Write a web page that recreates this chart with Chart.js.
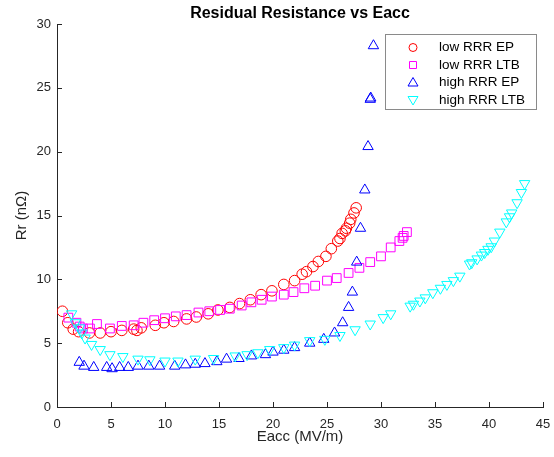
<!DOCTYPE html>
<html>
<head>
<meta charset="utf-8">
<script src="https://cdn.jsdelivr.net/npm/chart.js@4.4.1/dist/chart.umd.min.js"></script>
<style>
  html, body { margin: 0; padding: 0; background: #fff; }
  #wrap { width: 554px; height: 457px; }
</style>
</head>
<body>
<div id="wrap"><canvas id="chart" width="554" height="457"></canvas></div>
<script>
// Rr vs Eacc
const lowEpX = [0.5, 1.0, 1.5, 2.0, 3.0, 4.0, 5.0, 6.0, 7.1, 7.4, 7.8, 9.1, 9.9, 10.8, 12.0, 12.9, 14.0, 14.9,
  16.0, 16.9, 17.9, 18.9, 19.9, 21.0, 22.0, 22.7, 23.1, 23.7, 24.2, 24.9, 25.4, 26.0, 26.2, 26.4, 26.7, 26.8,
  27.1, 27.2, 27.5, 27.7];
const lowEpY = [7.5, 6.6, 6.1, 5.9, 5.8, 5.8, 5.9, 6.0, 6.1, 6.0, 6.2, 6.4, 6.6, 6.7, 6.9, 7.05, 7.3, 7.6,
  7.8, 8.1, 8.4, 8.8, 9.1, 9.6, 9.9, 10.4, 10.6, 11.0, 11.4, 11.8, 12.4, 13.0, 13.2, 13.6, 13.8, 14.0,
  14.4, 14.7, 15.2, 15.6];

const lowLtbX = [1.05, 1.8, 2.1, 2.4, 3.05, 3.7, 4.9, 6.0, 7.1, 8.0, 9.0, 10.0, 11.0, 12.0, 13.1, 14.1, 15.1,
  16.0, 17.1, 18.0, 18.95, 19.9, 21.0, 21.9, 22.9, 23.9, 25.0, 25.9, 27.0, 28.0, 29.0, 30.0, 30.9, 31.7,
  32.0, 32.1, 32.4];
const lowLtbY = [7.0, 6.6, 6.3, 6.15, 6.15, 6.5, 6.15, 6.35, 6.4, 6.6, 6.8, 6.95, 7.1, 7.2, 7.4, 7.5, 7.6,
  7.7, 7.95, 8.2, 8.4, 8.65, 8.8, 9.0, 9.3, 9.5, 9.9, 10.1, 10.5, 10.9, 11.35, 11.8, 12.5, 13.0,
  13.25, 13.4, 13.7];

const highEpX = [2.06, 2.5, 3.4, 4.6, 5.1, 5.8, 6.6, 7.5, 8.5, 9.5, 10.9, 11.9, 12.8, 13.7, 14.8, 15.7,
  16.85, 18.0, 19.3, 20.0, 21.0, 22.0, 23.4, 24.7, 25.7, 26.45, 27.0, 27.35, 27.75, 28.1, 28.5, 28.8,
  29.0, 29.05, 29.3];
const highEpY = [3.5, 3.2, 3.1, 3.1, 3.0, 3.1, 3.1, 3.2, 3.2, 3.2, 3.2, 3.3, 3.35, 3.4, 3.55, 3.75,
  3.8, 4.0, 4.1, 4.3, 4.45, 4.65, 5.0, 5.3, 5.8, 6.6, 7.8, 9.0, 11.35, 14.0, 17.0, 20.4,
  24.1, 24.2, 28.3];

const highLtbX = [1.35, 1.7, 2.1, 2.3, 2.6, 3.2, 4.0, 4.9, 6.1, 7.5, 8.6, 10.0, 11.2, 12.8, 14.5, 16.5,
  17.6, 18.6, 19.7, 21.0, 22.0, 23.4, 24.8, 26.2, 27.6, 29.0, 30.2, 30.9, 32.7, 33.0, 33.6, 34.1, 34.8,
  35.5, 36.1, 36.7, 37.3, 38.2, 38.4, 38.9, 39.3, 39.6, 39.9, 40.2, 40.5, 41.0, 41.6, 41.9, 42.1, 42.6,
  43.0, 43.3];
const highLtbY = [7.3, 6.6, 6.2, 5.8, 5.4, 4.9, 4.5, 4.1, 3.95, 3.75, 3.7, 3.6, 3.6, 3.75, 3.8, 4.0,
  4.1, 4.25, 4.5, 4.65, 4.85, 5.2, 5.3, 5.6, 6.05, 6.5, 7.0, 7.3, 7.9, 8.05, 8.3, 8.55, 8.95,
  9.3, 9.6, 9.9, 10.25, 11.2, 11.3, 11.6, 11.9, 12.1, 12.35, 12.55, 13.0, 13.7, 14.5, 14.9, 15.2, 16.0,
  16.8, 17.5];

const seriesNames = ['low RRR EP', 'low RRR LTB', 'high RRR EP', 'high RRR LTB'];
const xTicks = [0, 5, 10, 15, 20, 25, 30, 35, 40, 45];
const yTicks = [0, 5, 10, 15, 20, 25, 30];
const chartTitle = 'Residual Resistance vs Eacc';

const FONT = 'Arial, "Liberation Sans", Helvetica, sans-serif';
const AXIS = '#262626';

function pts(xs, ys) {
  return xs.map((x, i) => ({ x: x, y: ys[i] }));
}

// marker look for each series (MATLAB style open markers)
const markers = [
  { color: '#ff0000', style: 'circle', radius: 5.3, rotation: 0 },
  { color: '#ff00ff', style: 'rect', radius: 6.2, rotation: 0 },
  { color: '#0000ff', style: 'triangle', radius: 6, rotation: 0 },
  { color: '#00ffff', style: 'triangle', radius: 6, rotation: 180 }
];

const allData = [pts(lowEpX, lowEpY), pts(lowLtbX, lowLtbY), pts(highEpX, highEpY), pts(highLtbX, highLtbY)];

const datasets = allData.map((d, i) => ({
  label: seriesNames[i],
  data: d,
  showLine: false,
  pointStyle: markers[i].style,
  pointRadius: markers[i].radius,
  pointHoverRadius: markers[i].radius,
  pointRotation: markers[i].rotation,
  pointBorderColor: markers[i].color,
  pointBackgroundColor: 'rgba(0,0,0,0)',
  pointBorderWidth: 1,
  order: 4 - i
}));

// inward tick marks like matlab
const inwardTicks = {
  id: 'inwardTicks',
  afterDatasetsDraw(chart) {
    const { ctx, chartArea, scales } = chart;
    ctx.save();
    ctx.strokeStyle = AXIS;
    ctx.lineWidth = 1;
    ctx.beginPath();
    xTicks.forEach(v => {
      const px = Math.round(scales.x.getPixelForValue(v)) + 0.5;
      ctx.moveTo(px, chartArea.bottom);
      ctx.lineTo(px, chartArea.bottom - 5);
    });
    yTicks.forEach(v => {
      const py = Math.round(scales.y.getPixelForValue(v)) + 0.5;
      ctx.moveTo(chartArea.left, py);
      ctx.lineTo(chartArea.left + 5, py);
    });
    ctx.stroke();
    ctx.restore();
  }
};

// title centred over the plot area, not the whole canvas
const areaTitle = {
  id: 'areaTitle',
  afterDraw(chart) {
    const { ctx, chartArea } = chart;
    ctx.save();
    ctx.font = 'bold 16px ' + FONT;
    ctx.fillStyle = '#000';
    ctx.textAlign = 'center';
    ctx.textBaseline = 'middle';
    ctx.fillText(chartTitle, (chartArea.left + chartArea.right) / 2, 14);
    ctx.restore();
  }
};

// legend box in upper right corner
const boxLegend = {
  id: 'boxLegend',
  afterDraw(chart) {
    const ctx = chart.ctx;
    const left = 385, top = 34, w = 151, h = 75;
    ctx.save();
    ctx.fillStyle = '#fff';
    ctx.fillRect(left, top, w, h);
    ctx.strokeStyle = '#8a8a8a';
    ctx.lineWidth = 1;
    ctx.strokeRect(left + 0.5, top + 0.5, w, h);
    ctx.font = '13.5px ' + FONT;
    ctx.textBaseline = 'middle';
    ctx.fillStyle = '#000';
    seriesNames.forEach((name, i) => {
      const cy = 47.5 + i * 17.5;
      const cx = 413;
      const m = markers[i];
      ctx.strokeStyle = m.color;
      ctx.beginPath();
      if (m.style === 'circle') {
        ctx.arc(cx, cy, 4, 0, Math.PI * 2);
      } else if (m.style === 'rect') {
        ctx.rect(cx - 3.5, cy - 3.5, 7, 7);
      } else if (m.rotation === 0) {
        ctx.moveTo(cx, cy - 5);
        ctx.lineTo(cx + 5, cy + 3.5);
        ctx.lineTo(cx - 5, cy + 3.5);
        ctx.closePath();
      } else {
        ctx.moveTo(cx, cy + 5);
        ctx.lineTo(cx + 5, cy - 3.5);
        ctx.lineTo(cx - 5, cy - 3.5);
        ctx.closePath();
      }
      ctx.stroke();
      ctx.fillText(name, 439, cy);
    });
    ctx.restore();
  }
};

new Chart(document.getElementById('chart'), {
  type: 'scatter',
  data: { datasets: datasets },
  options: {
    responsive: false,
    animation: false,
    layout: { padding: { left: 0, right: 11, top: 24, bottom: 0 } },
    plugins: {
      legend: { display: false },
      tooltip: { enabled: false },
      title: { display: false }
    },
    scales: {
      x: {
        type: 'linear',
        min: 0,
        max: 45,
        afterFit: s => { s.height = 50; s.paddingLeft = 0; s.paddingRight = 0; },
        afterBuildTicks: s => { s.ticks = xTicks.map(v => ({ value: v })); },
        grid: { display: false, drawTicks: false },
        border: { display: true, color: AXIS, width: 1 },
        ticks: { color: AXIS, padding: 10, maxRotation: 0, font: { family: FONT, size: 13 } },
        title: {
          display: true,
          text: 'Eacc (MV/m)',
          color: AXIS,
          font: { family: FONT, size: 15, lineHeight: 1.2 },
          padding: { top: 0, bottom: 11 }
        }
      },
      y: {
        type: 'linear',
        min: 0,
        max: 30,
        afterFit: s => { s.width = 57; s.paddingTop = 0; s.paddingBottom = 0; },
        afterBuildTicks: s => { s.ticks = yTicks.map(v => ({ value: v })); },
        grid: { display: false, drawTicks: false },
        border: { display: true, color: AXIS, width: 1 },
        ticks: { color: AXIS, padding: 6, font: { family: FONT, size: 13 } },
        title: {
          display: true,
          text: 'Rr (nΩ)',
          color: AXIS,
          font: { family: FONT, size: 15, lineHeight: 1.2 },
          padding: { top: 13, bottom: 0 }
        }
      }
    }
  },
  plugins: [inwardTicks, areaTitle, boxLegend]
});
</script>
</body>
</html>
